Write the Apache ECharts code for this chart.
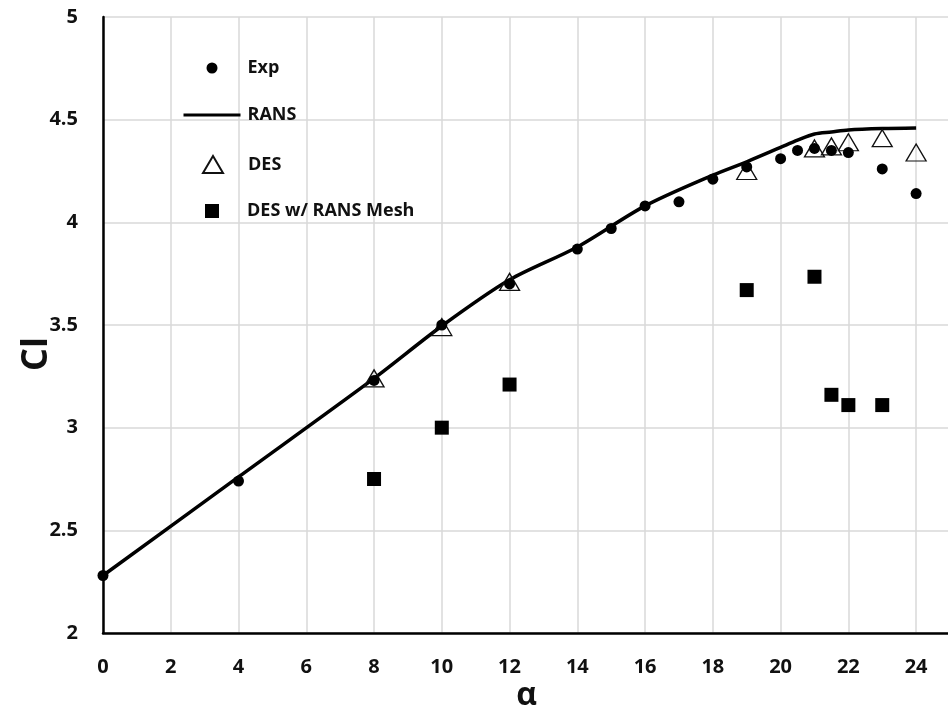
<!DOCTYPE html>
<html>
<head>
<meta charset="utf-8">
<script src="https://cdn.jsdelivr.net/npm/echarts@6/dist/echarts.min.js"></script>
<style>
  html, body { margin: 0; padding: 0; background: #fff; }
  #chart { width: 948px; height: 707px; }
</style>
</head>
<body>
<div id="chart"></div>
<script>
// angle of attack / lift coefficient
const expAlpha = [0, 4, 8, 10, 12, 14, 15, 16, 17, 18, 19, 20, 20.5, 21, 21.5, 22, 23, 24];
const expCl = [2.28, 2.74, 3.23, 3.50, 3.70, 3.87, 3.97, 4.08, 4.10, 4.21, 4.27, 4.31, 4.35, 4.36, 4.35, 4.34, 4.26, 4.14];

const ransAlpha = [0, 4, 8, 10, 12, 14, 16, 18, 19, 20, 20.5, 21, 21.5, 22, 23, 24];
const ransCl = [2.28, 2.76, 3.24, 3.495, 3.72, 3.88, 4.08, 4.23, 4.295, 4.365, 4.40, 4.43, 4.44, 4.45, 4.457, 4.46];

const desAlpha = [8, 10, 12, 19, 21, 21.5, 22, 23, 24];
const desCl = [3.24, 3.49, 3.71, 4.25, 4.36, 4.37, 4.39, 4.41, 4.34];

const meshAlpha = [8, 10, 12, 19, 21, 21.5, 22, 23];
const meshCl = [2.75, 3.00, 3.21, 3.67, 3.735, 3.16, 3.11, 3.11];

const xTicks = [0, 2, 4, 6, 8, 10, 12, 14, 16, 18, 20, 22, 24];

const zip = (xs, ys) => xs.map((x, i) => [x, ys[i]]);

const font = '"Open Sans", "Noto Sans", sans-serif';
const chart = echarts.init(document.getElementById('chart'));

// one legend per entry so each marker keeps its own size; text lines up at x≈247
const legendItem = (name, top, w, h, padLeft) => ({
  orient: 'vertical',
  left: 212 - w / 2,
  top: top,
  padding: 0,
  itemWidth: w,
  itemHeight: h,
  data: [name],
  textStyle: { fontFamily: font, fontSize: 18, fontWeight: 'bold', color: '#111', padding: [0, 0, 0, padLeft] }
});

chart.setOption({
  backgroundColor: '#fff',
  animation: false,
  textStyle: { fontFamily: font },
  grid: { left: 103, right: -2, top: 17, bottom: 74, outerBoundsMode: 'none' },
  legend: [
    legendItem('Exp', 59, 11, 11, 25),
    Object.assign(legendItem('RANS', 106, 57, 3, 2), {
      data: [{ name: 'RANS', icon: 'rect', itemStyle: { color: '#000' } }]
    }),
    legendItem('DES', 155, 20, 17, 20),
    legendItem('DES w/ RANS Mesh', 202, 14, 14, 23)
  ],
  xAxis: {
    type: 'value',
    min: 0,
    max: 25,
    interval: 2,
    name: 'α',
    nameLocation: 'middle',
    nameGap: 47,
    nameMoveOverlap: false,
    nameTextStyle: { fontFamily: font, fontSize: 32, fontWeight: 'bold', color: '#111' },
    axisLine: { lineStyle: { color: '#000', width: 2.5 } },
    axisTick: { show: false },
    axisLabel: {
      margin: 24,
      fontSize: 20,
      fontWeight: 'bold',
      color: '#111',
      formatter: v => (xTicks.includes(v) ? String(v) : '')
    },
    splitLine: { show: true, lineStyle: { color: '#d9d9d9', width: 1.5 } }
  },
  yAxis: {
    type: 'value',
    min: 2,
    max: 5,
    interval: 0.5,
    name: 'Cl',
    nameLocation: 'middle',
    nameGap: 48,
    nameMoveOverlap: false,
    nameTextStyle: {
      fontFamily: font,
      fontSize: 36,
      fontWeight: 'bold',
      color: '#111',
      padding: [0, 58, 0, 0]
    },
    axisLine: { show: true, lineStyle: { color: '#000', width: 2.5 } },
    axisTick: { show: false },
    axisLabel: { margin: 25, fontSize: 20, fontWeight: 'bold', color: '#111' },
    splitLine: { show: true, lineStyle: { color: '#d9d9d9', width: 1.5 } }
  },
  series: [
    {
      name: 'RANS',
      type: 'line',
      data: zip(ransAlpha, ransCl),
      smooth: 0.3,
      showSymbol: false,
      symbol: 'none',
      z: 2,
      lineStyle: { color: '#000', width: 3.5 },
      itemStyle: { color: '#000' }
    },
    {
      name: 'DES',
      type: 'scatter',
      data: zip(desAlpha, desCl),
      symbol: 'triangle',
      symbolSize: [20, 17],
      z: 3,
      itemStyle: { color: 'rgba(255,255,255,0)', borderColor: '#111', borderWidth: 1.3, opacity: 1 }
    },
    {
      name: 'Exp',
      type: 'scatter',
      data: zip(expAlpha, expCl),
      symbol: 'circle',
      symbolSize: 11,
      z: 4,
      itemStyle: { color: '#000', opacity: 1 }
    },
    {
      name: 'DES w/ RANS Mesh',
      type: 'scatter',
      data: zip(meshAlpha, meshCl),
      symbol: 'rect',
      symbolSize: 14,
      z: 4,
      itemStyle: { color: '#000', opacity: 1 }
    }
  ]
});
</script>
</body>
</html>
